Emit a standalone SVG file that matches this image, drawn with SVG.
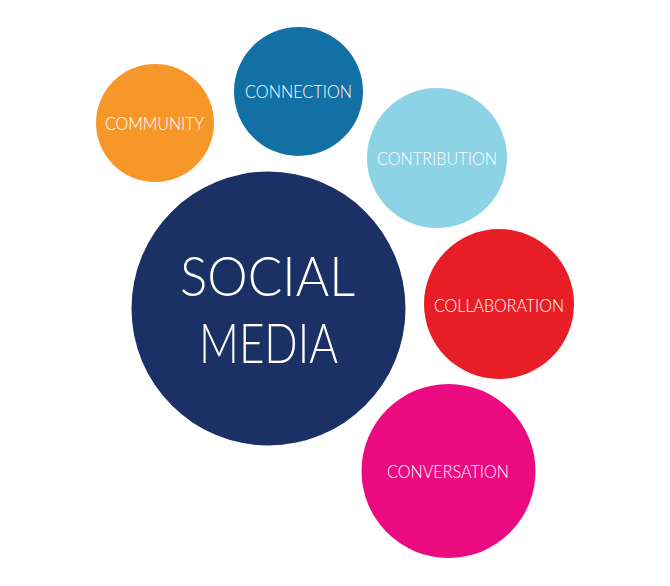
<svg xmlns="http://www.w3.org/2000/svg" width="670" height="586" viewBox="0 0 670 586">
<style>
.t{font-family:Lato,"Open Sans","Liberation Sans",sans-serif;font-weight:300;fill:#fff}
.s{font-size:18px}
.b{font-size:55px}
</style>
<rect width="670" height="586" fill="#fff"/>
<g id="community"><circle cx="155" cy="123" r="59" fill="#F7972A"/><text class="t s" x="105" y="130" textLength="99" lengthAdjust="spacingAndGlyphs">COMMUNITY</text></g>
<g id="connection"><circle cx="298.5" cy="91.5" r="64.5" fill="#1270A5"/><text class="t s" x="245" y="98" textLength="107" lengthAdjust="spacingAndGlyphs">CONNECTION</text></g>
<g id="contribution"><circle cx="437" cy="158" r="70" fill="#8DD3E6"/><text class="t s" x="377" y="165" textLength="120" lengthAdjust="spacingAndGlyphs">CONTRIBUTION</text></g>
<g id="social-media"><circle cx="268.5" cy="308.5" r="137" fill="#1B3166"/><text class="t b" x="180" y="296" textLength="175" lengthAdjust="spacingAndGlyphs">SOCIAL</text><text class="t b" x="199" y="363" textLength="139" lengthAdjust="spacingAndGlyphs">MEDIA</text></g>
<g id="collaboration"><circle cx="499" cy="304" r="75" fill="#E81E26"/><text class="t s" x="434" y="312" textLength="130" lengthAdjust="spacingAndGlyphs">COLLABORATION</text></g>
<g id="conversation"><circle cx="448.5" cy="471" r="87" fill="#EC0A80"/><text class="t s" x="387" y="478" textLength="122" lengthAdjust="spacingAndGlyphs">CONVERSATION</text></g>
<g id="connectors"/>
</svg>
